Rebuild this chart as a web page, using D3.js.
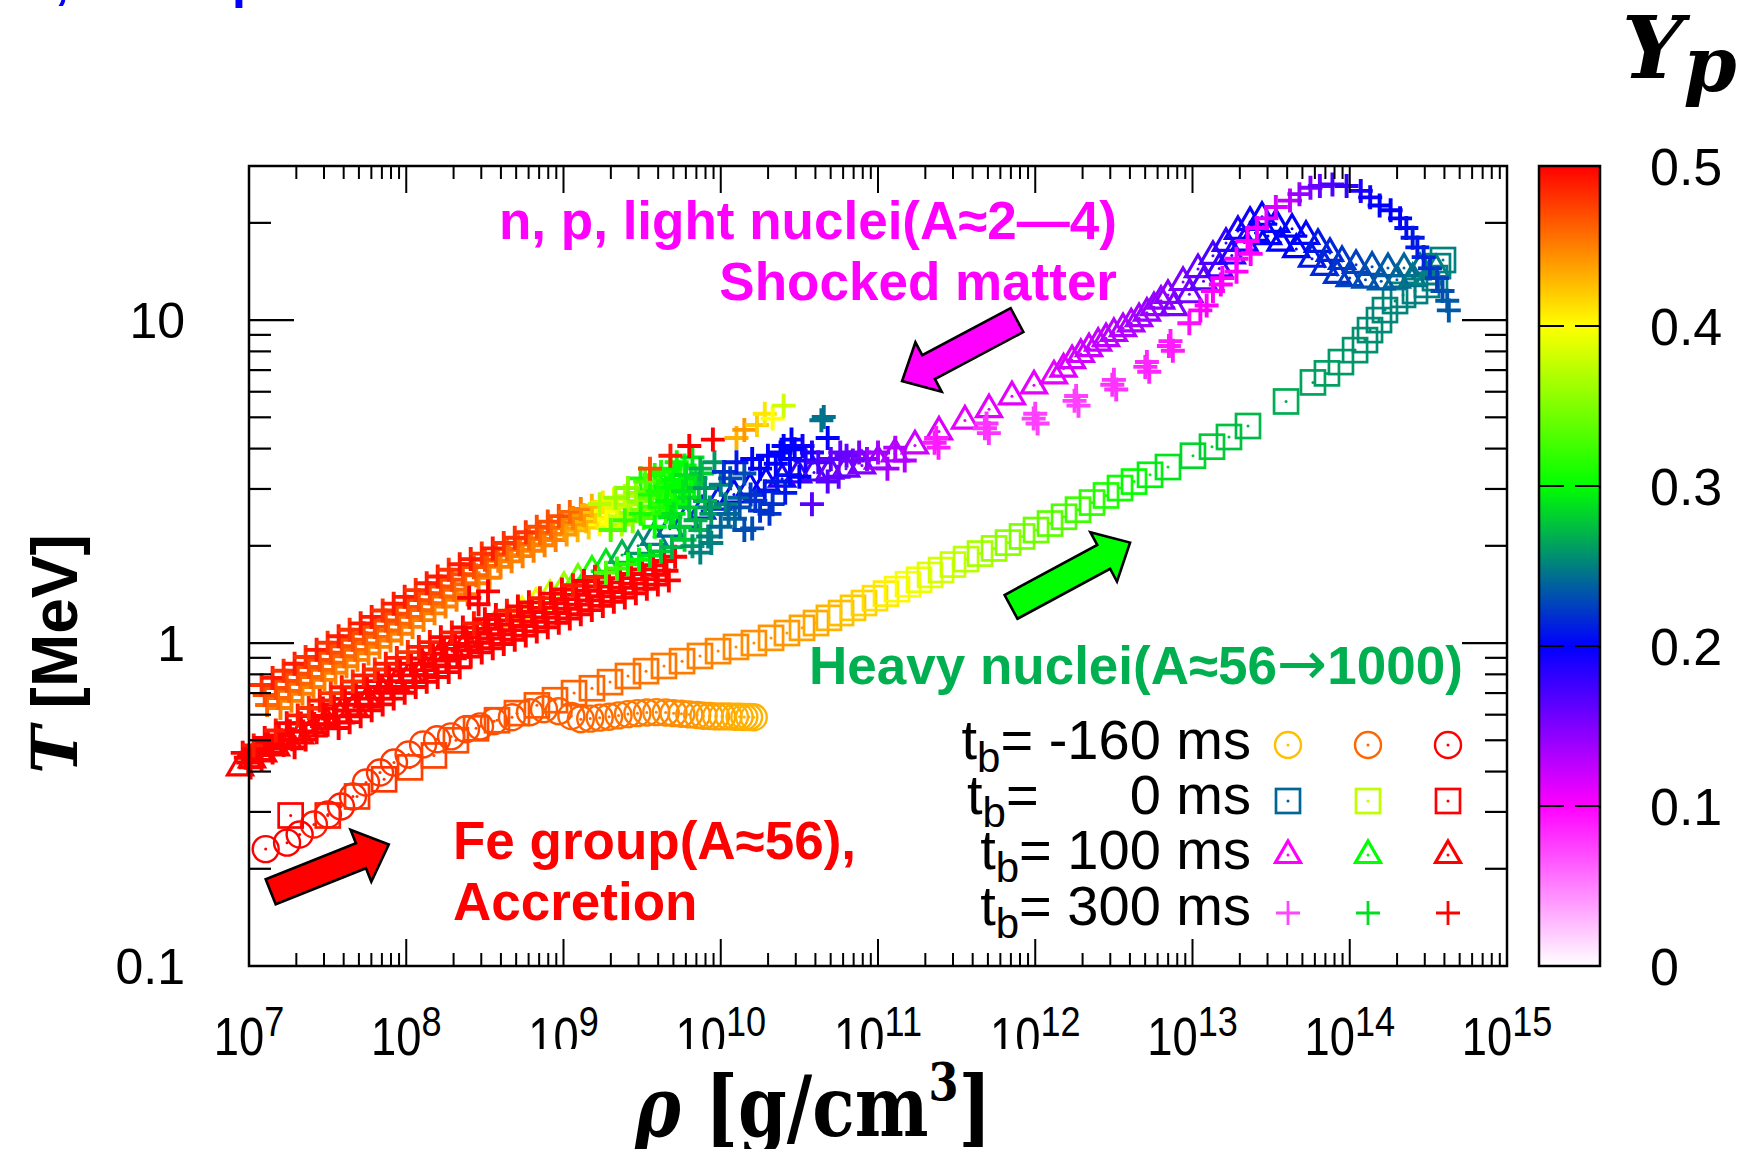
<!DOCTYPE html>
<html>
<head>
<meta charset="utf-8">
<script src="https://cdn.jsdelivr.net/npm/d3@7"></script>
<style>
  html, body { margin: 0; padding: 0; background: #fff; }
  svg { display: block; }
</style>
</head>
<body>
<svg id="chart" width="1742" height="1149"></svg>
<script>
// Each point: [log10(rho / g cm^-3), log10(T / MeV), Yp]

// t_b = -160 ms (circles)
const circlePts = [
  [7.106,-0.638,0.5],[7.242,-0.618,0.5],[7.322,-0.593,0.5],[7.413,-0.562,0.49],[7.502,-0.531,0.49],
  [7.585,-0.506,0.49],[7.661,-0.475,0.485],[7.744,-0.432,0.48],[7.833,-0.401,0.48],[7.922,-0.370,0.478],
  [8.015,-0.345,0.476],[8.107,-0.314,0.475],[8.196,-0.298,0.474],[8.285,-0.289,0.473],[8.380,-0.267,0.472],
  [8.469,-0.258,0.471],[8.558,-0.242,0.47],[8.672,-0.230,0.468],[8.787,-0.214,0.466],[8.876,-0.205,0.465],
  [8.969,-0.211,0.463],[9.05,-0.226,0.462],[9.11,-0.236,0.461],[9.17,-0.234,0.46],[9.23,-0.231,0.458],
  [9.29,-0.228,0.457],[9.35,-0.224,0.455],[9.41,-0.220,0.454],[9.47,-0.217,0.452],[9.53,-0.215,0.451],
  [9.59,-0.214,0.449],[9.65,-0.215,0.447],[9.70,-0.217,0.446],[9.75,-0.219,0.444],[9.80,-0.221,0.443],
  [9.85,-0.223,0.441],[9.89,-0.225,0.44],[9.93,-0.226,0.438],[9.97,-0.227,0.437],[10.01,-0.227,0.436],
  [10.05,-0.227,0.434],[10.09,-0.228,0.433],[10.12,-0.228,0.432],[10.15,-0.229,0.431],[10.18,-0.229,0.43],
  [10.21,-0.230,0.43]
];

// t_b = 0 ms (squares)
const squarePts = [
  [7.265,-0.534,0.5],[7.501,-0.534,0.49],[7.687,-0.475,0.48],[7.859,-0.422,0.48],[8.024,-0.385,0.475],
  [8.176,-0.348,0.475],[8.316,-0.301,0.47],[8.444,-0.264,0.47],[8.577,-0.239,0.468],[8.704,-0.217,0.466],
  [8.831,-0.193,0.465],[8.946,-0.177,0.463],[9.067,-0.155,0.462],[9.181,-0.140,0.46],[9.296,-0.121,0.458],
  [9.410,-0.102,0.457],[9.525,-0.087,0.455],[9.639,-0.071,0.453],[9.754,-0.056,0.452],[9.868,-0.040,0.45],
  [9.983,-0.025,0.448],[10.097,-0.012,0.446],[10.211,0.000,0.444],[10.320,0.016,0.442],[10.421,0.031,0.44],
  [10.517,0.047,0.437],[10.606,0.062,0.434],[10.688,0.078,0.43],[10.765,0.093,0.426],[10.841,0.109,0.422],
  [10.911,0.124,0.418],[10.981,0.139,0.413],[11.051,0.153,0.408],[11.121,0.167,0.403],[11.191,0.182,0.398],
  [11.261,0.196,0.393],[11.331,0.211,0.388],[11.401,0.226,0.383],[11.477,0.243,0.378],[11.560,0.260,0.372],
  [11.649,0.277,0.366],[11.738,0.293,0.36],[11.827,0.311,0.354],[11.916,0.330,0.348],[12.005,0.350,0.342],
  [12.094,0.370,0.336],[12.183,0.391,0.33],[12.272,0.413,0.324],[12.361,0.435,0.318],[12.450,0.457,0.312],
  [12.539,0.480,0.306],[12.628,0.500,0.30],[12.730,0.521,0.295],[12.844,0.545,0.29],[13.003,0.580,0.284],
  [13.124,0.608,0.28],[13.232,0.638,0.276],[13.353,0.672,0.272],[13.595,0.748,0.268],[13.766,0.807,0.264],
  [13.855,0.835,0.262],[13.944,0.870,0.26],[14.034,0.907,0.258],[14.097,0.938,0.256],[14.129,0.969,0.255],
  [14.186,1.000,0.254],[14.224,1.031,0.253],[14.288,1.059,0.252],[14.339,1.078,0.251],[14.415,1.090,0.25],
  [14.491,1.109,0.25],[14.542,1.130,0.25],[14.561,1.167,0.25],[14.593,1.186,0.25]
];

// t_b = 100 ms (triangles)
const trianglePts = [
  [6.943,-0.385,0.5],[7.019,-0.360,0.5],[7.089,-0.342,0.5],[7.172,-0.323,0.5],[7.254,-0.304,0.5],
  [7.324,-0.286,0.5],[7.407,-0.264,0.5],[7.490,-0.242,0.5],[7.579,-0.224,0.5],[7.668,-0.199,0.5],
  [7.757,-0.174,0.5],[7.846,-0.149,0.5],[7.935,-0.124,0.5],[8.024,-0.099,0.5],[8.113,-0.075,0.5],
  [8.202,-0.050,0.5],[8.291,-0.025,0.5],[8.380,0.000,0.5],[8.469,0.025,0.48],[8.558,0.050,0.45],
  [8.647,0.075,0.42],[8.736,0.099,0.40],[8.825,0.124,0.39],[8.914,0.149,0.38],[9.003,0.174,0.36],
  [9.092,0.199,0.34],[9.181,0.224,0.31],[9.270,0.245,0.29],[9.372,0.273,0.27],[9.474,0.301,0.26],
  [9.576,0.329,0.25],[9.677,0.354,0.24],[9.779,0.382,0.23],[9.881,0.410,0.22],[9.982,0.438,0.21],
  [10.084,0.460,0.2],[10.186,0.481,0.2],[10.288,0.497,0.2],[10.390,0.509,0.19],[10.491,0.522,0.18],
  [10.593,0.528,0.17],[10.695,0.534,0.16],[10.797,0.540,0.155],[10.898,0.550,0.15],[11.000,0.565,0.14],
  [11.108,0.587,0.13],[11.235,0.612,0.12],[11.388,0.655,0.115],[11.553,0.689,0.11],[11.706,0.724,0.11],
  [11.852,0.764,0.11],[11.992,0.798,0.11],[12.119,0.829,0.11],[12.18,0.85,0.112],[12.234,0.876,0.115],
  [12.29,0.895,0.118],[12.342,0.913,0.12],[12.40,0.93,0.122],[12.450,0.944,0.125],[12.50,0.96,0.128],
  [12.558,0.975,0.13],[12.61,0.99,0.132],[12.660,1.006,0.135],[12.71,1.023,0.138],[12.755,1.040,0.14],
  [12.80,1.06,0.142],[12.844,1.078,0.145],[12.940,1.118,0.15],[13.035,1.158,0.16],[13.130,1.199,0.17],
  [13.213,1.239,0.18],[13.289,1.276,0.19],[13.366,1.304,0.195],[13.442,1.320,0.2],[13.531,1.298,0.2],
  [13.633,1.283,0.2],[13.722,1.261,0.2],[13.798,1.236,0.21],[13.874,1.208,0.215],[13.951,1.183,0.22],
  [14.040,1.171,0.225],[14.142,1.165,0.23],[14.243,1.161,0.235],[14.345,1.161,0.24],[14.447,1.161,0.245],
  [14.549,1.158,0.25],
  [12.88,1.04,0.15],[12.98,1.08,0.155],[13.07,1.12,0.165],[13.17,1.16,0.175],[13.25,1.20,0.185],
  [13.33,1.24,0.19],[13.40,1.27,0.2],[13.48,1.26,0.2],[13.56,1.24,0.2],[13.66,1.22,0.2],
  [13.76,1.19,0.21],[13.84,1.165,0.215],[13.92,1.14,0.22],[14.00,1.13,0.225],[14.10,1.125,0.23],
  [14.20,1.12,0.235],[14.30,1.125,0.24],[14.40,1.13,0.245],[14.50,1.135,0.25]
];

// t_b = 300 ms (plus signs): lower band, four rows from top to bottom
const plusLowerRow1 = [
  [6.96,-0.340,.5],[7.03,-0.317,.49],[7.10,-0.294,.5],[7.17,-0.271,.49],[7.24,-0.248,.5],[7.31,-0.224,.49],
  [7.38,-0.201,.48],[7.45,-0.178,.49],[7.52,-0.155,.48],[7.59,-0.137,.49],[7.66,-0.119,.48],[7.73,-0.100,.49],
  [7.80,-0.082,.48],[7.87,-0.064,.49],[7.94,-0.046,.49],[8.01,-0.028,.48],[8.08,-0.012,.49],[8.15,0.003,.49],
  [8.22,0.018,.5],[8.29,0.033,.49],[8.36,0.048,.5],[8.43,0.061,.49],[8.50,0.074,.5],[8.57,0.087,.5],
  [8.64,0.100,.49],[8.71,0.113,.5],[8.78,0.126,.5],[8.85,0.139,.49],[8.92,0.153,.5],[8.99,0.166,.5],
  [9.06,0.179,.49],[9.13,0.192,.5],[9.20,0.205,.49],[9.27,0.218,.33],[9.34,0.231,.32],[9.41,0.244,.31],
  [9.48,0.258,.30],[9.55,0.271,.29],[9.62,0.284,.28],[9.69,0.297,.27]
];
const plusLowerRow2 = [
  [6.98,-0.355,.5],[7.05,-0.332,.5],[7.12,-0.309,.5],[7.19,-0.286,.5],[7.26,-0.273,.5],[7.33,-0.249,.5],
  [7.40,-0.226,.5],[7.47,-0.203,.5],[7.54,-0.191,.5],[7.61,-0.173,.5],[7.68,-0.155,.5],[7.75,-0.136,.5],
  [7.82,-0.118,.5],[7.89,-0.100,.5],[7.96,-0.082,.5],[8.03,-0.064,.5],[8.10,-0.048,.5],[8.17,-0.033,.5],
  [8.24,-0.018,.5],[8.31,-0.003,.5],[8.38,0.018,.5],[8.45,0.031,.5],[8.52,0.044,.5],[8.59,0.057,.5],
  [8.66,0.070,.5],[8.73,0.083,.5],[8.80,0.096,.5],[8.87,0.109,.5],[8.94,0.123,.5],[9.01,0.136,.5],
  [9.08,0.149,.5],[9.15,0.162,.5],[9.22,0.175,.5],[9.29,0.188,.5],[9.36,0.201,.5],[9.43,0.214,.5],
  [9.50,0.228,.5],[9.57,0.241,.5],[9.64,0.254,.5],[9.71,0.267,.5]
];
const plusLowerRow3 = [
  [6.995,-0.370,.5],[7.065,-0.347,.5],[7.135,-0.324,.5],[7.205,-0.301,.5],[7.275,-0.298,.5],[7.345,-0.274,.5],
  [7.415,-0.251,.5],[7.485,-0.228,.5],[7.555,-0.227,.5],[7.625,-0.209,.5],[7.695,-0.191,.5],[7.765,-0.172,.5],
  [7.835,-0.154,.5],[7.905,-0.136,.5],[7.975,-0.118,.5],[8.045,-0.100,.5],[8.115,-0.084,.5],[8.185,-0.069,.5],
  [8.255,-0.054,.5],[8.325,-0.039,.5],[8.395,-0.012,.5],[8.465,0.001,.5],[8.535,0.014,.5],[8.605,0.027,.5],
  [8.675,0.040,.5],[8.745,0.053,.5],[8.815,0.066,.5],[8.885,0.079,.5],[8.955,0.093,.5],[9.025,0.106,.5],
  [9.095,0.119,.5],[9.165,0.132,.5],[9.235,0.145,.5],[9.305,0.158,.5],[9.375,0.171,.5],[9.445,0.184,.5],
  [9.515,0.198,.5],[9.585,0.211,.5],[9.655,0.224,.5]
];
const plusLowerRow4 = [
  [7.01,-0.385,.5],[7.08,-0.362,.5],[7.15,-0.339,.5],[7.22,-0.316,.5],[7.29,-0.323,.5],[7.36,-0.299,.5],
  [7.43,-0.276,.5],[7.50,-0.253,.5],[7.57,-0.263,.5],[7.64,-0.245,.5],[7.71,-0.227,.5],[7.78,-0.208,.5],
  [7.85,-0.190,.5],[7.92,-0.172,.5],[7.99,-0.154,.5],[8.06,-0.136,.5],[8.13,-0.120,.5],[8.20,-0.105,.5],
  [8.27,-0.090,.5],[8.34,-0.075,.5],[8.41,-0.042,.5],[8.48,-0.029,.5],[8.55,-0.016,.5],[8.62,-0.003,.5],
  [8.69,0.010,.5],[8.76,0.023,.5],[8.83,0.036,.5],[8.90,0.049,.5],[8.97,0.063,.5],[9.04,0.076,.5],
  [9.11,0.089,.5],[9.18,0.102,.5],[9.25,0.115,.5],[9.32,0.128,.5],[9.39,0.141,.5],[9.46,0.154,.5],
  [9.53,0.168,.5],[9.60,0.181,.5],[9.67,0.194,.5]
];
// t_b = 300 ms: upper band, four rows from top to bottom
const plusUpperRow1 = [
  [7.08,-0.130,.48],[7.15,-0.108,.49],[7.22,-0.086,.48],[7.29,-0.064,.49],[7.36,-0.043,.48],[7.43,-0.021,.49],
  [7.50,0.001,.48],[7.57,0.021,.49],[7.64,0.041,.48],[7.71,0.061,.49],[7.78,0.081,.49],[7.85,0.101,.48],
  [7.92,0.122,.49],[7.99,0.143,.49],[8.06,0.164,.48],[8.13,0.185,.49],[8.20,0.206,.49],[8.27,0.227,.48],
  [8.34,0.244,.49],[8.41,0.260,.49],[8.48,0.277,.48],[8.55,0.293,.49],[8.62,0.310,.48],[8.69,0.326,.48],
  [8.76,0.343,.48],[8.83,0.360,.47],[8.90,0.376,.47],[8.97,0.393,.47],[9.04,0.406,.46],[9.11,0.415,.45],
  [9.18,0.425,.43],[9.25,0.435,.41],[9.32,0.445,.39],[9.39,0.455,.375],[9.46,0.465,.36],[9.53,0.475,.345],
  [9.60,0.484,.33],[9.67,0.494,.32],[9.74,0.502,.31],[9.81,0.511,.30]
];
const plusUpperRow2 = [
  [7.10,-0.161,.47],[7.17,-0.139,.47],[7.24,-0.117,.47],[7.31,-0.095,.47],[7.38,-0.074,.47],[7.45,-0.052,.47],
  [7.52,-0.030,.47],[7.59,-0.010,.47],[7.66,0.010,.47],[7.73,0.030,.47],[7.80,0.050,.47],[7.87,0.070,.47],
  [7.94,0.091,.47],[8.01,0.112,.47],[8.08,0.133,.47],[8.15,0.154,.47],[8.22,0.175,.47],[8.29,0.196,.47],
  [8.36,0.213,.47],[8.43,0.235,.47],[8.50,0.258,.47],[8.57,0.274,.47],[8.64,0.291,.46],[8.71,0.307,.46],
  [8.78,0.324,.46],[8.85,0.341,.46],[8.92,0.357,.46],[8.99,0.374,.45],[9.06,0.387,.45],[9.13,0.396,.44],
  [9.20,0.406,.42],[9.27,0.409,.40],[9.34,0.419,.385],[9.41,0.429,.37],[9.48,0.439,.355],[9.55,0.449,.34],
  [9.62,0.458,.325],[9.69,0.468,.315],[9.76,0.476,.305],[9.83,0.485,.30]
];
const plusUpperRow3 = [
  [7.115,-0.192,.46],[7.185,-0.170,.46],[7.255,-0.148,.46],[7.325,-0.126,.46],[7.395,-0.105,.46],[7.465,-0.083,.46],
  [7.535,-0.061,.46],[7.605,-0.041,.46],[7.675,-0.021,.46],[7.745,-0.001,.46],[7.815,0.019,.46],[7.885,0.039,.46],
  [7.955,0.060,.46],[8.025,0.081,.46],[8.095,0.102,.46],[8.165,0.123,.46],[8.235,0.144,.46],[8.305,0.165,.46],
  [8.375,0.182,.46],[8.445,0.210,.46],[8.515,0.239,.46],[8.585,0.255,.45],[8.655,0.272,.45],[8.725,0.288,.45],
  [8.795,0.305,.45],[8.865,0.322,.45],[8.935,0.338,.45],[9.005,0.355,.44],[9.075,0.368,.44],[9.145,0.377,.43],
  [9.215,0.387,.41],[9.285,0.383,.40],[9.355,0.393,.38],[9.425,0.403,.365],[9.495,0.413,.35],[9.565,0.423,.335],
  [9.635,0.432,.32],[9.705,0.442,.31],[9.775,0.450,.30]
];
const plusUpperRow4 = [
  [7.20,-0.201,.45],[7.27,-0.179,.45],[7.34,-0.157,.45],[7.41,-0.136,.45],[7.48,-0.114,.45],[7.55,-0.092,.45],
  [7.62,-0.072,.45],[7.69,-0.052,.45],[7.76,-0.032,.45],[7.83,-0.012,.45],[7.90,0.008,.45],[7.97,0.029,.45],
  [8.04,0.050,.45],[8.11,0.071,.45],[8.18,0.092,.45],[8.25,0.113,.45],[8.32,0.134,.45],[8.39,0.151,.45],
  [8.46,0.185,.45],[8.53,0.202,.45],[8.60,0.236,.45],[8.67,0.253,.45],[8.74,0.269,.45],[8.81,0.286,.45],
  [8.88,0.303,.45],[8.95,0.319,.45],[9.02,0.336,.44],[9.09,0.349,.43],[9.16,0.358,.42],[9.23,0.368,.40],
  [9.30,0.357,.39],[9.37,0.367,.37],[9.44,0.377,.35],[9.51,0.387,.33],[9.58,0.397,.32],[9.65,0.406,.31]
];
// t_b = 300 ms: transition region and scattered points
const plusTransition = [
  [8.40,0.14,0.5],[8.46,0.12,0.5],[8.52,0.16,0.5],
  [9.49,0.51,0.31],[9.58,0.52,0.31],[9.68,0.54,0.30],[9.77,0.55,0.30],[9.55,0.46,0.31],[9.65,0.48,0.30],
  [9.74,0.49,0.30],[9.84,0.51,0.29],[9.61,0.42,0.31],[9.71,0.43,0.30],[9.80,0.45,0.29],
  [9.30,0.35,0.33],[9.39,0.38,0.32],[9.49,0.40,0.31],[9.58,0.36,0.30],[9.68,0.39,0.29],[9.77,0.32,0.28],[9.87,0.35,0.27],
  [9.23,0.43,0.37],[9.33,0.45,0.36],[9.41,0.48,0.35],
  [9.52,0.50,0.33],[9.62,0.53,0.31],[9.72,0.56,0.30],[9.82,0.575,0.29],[9.60,0.47,0.31],[9.70,0.505,0.30],
  [9.78,0.52,0.29],[9.88,0.525,0.28],[9.66,0.44,0.30],[9.76,0.47,0.29],[9.86,0.48,0.28],[9.70,0.40,0.29],
  [9.80,0.42,0.28],[9.90,0.44,0.27],[9.74,0.36,0.28],[9.84,0.38,0.27],[9.94,0.40,0.26],[9.82,0.30,0.26],
  [9.92,0.33,0.25],[10.00,0.36,0.24],
  [9.87,0.54,0.27],[9.96,0.56,0.26],[9.90,0.48,0.26],[10.00,0.49,0.25],[9.93,0.42,0.26],[10.03,0.43,0.25],
  [10.09,0.385,0.24],[10.12,0.45,0.24],[9.87,0.28,0.25],[9.94,0.31,0.25],
  [10.06,0.51,0.23],[10.15,0.525,0.23],[10.19,0.46,0.22],[10.25,0.41,0.22],[10.15,0.35,0.23],
  [10.02,0.53,0.22],[10.10,0.56,0.21],[10.20,0.57,0.20],[10.30,0.58,0.20],[10.40,0.61,0.20],[10.45,0.63,0.20],
  [10.52,0.61,0.195],[10.58,0.59,0.19],[10.36,0.50,0.21],[10.28,0.47,0.21],[10.22,0.44,0.22],[10.12,0.42,0.23],
  [10.05,0.40,0.24],[10.33,0.43,0.22],[10.44,0.52,0.205],
  [10.25,0.54,0.20],[10.35,0.555,0.20],[10.44,0.57,0.20],[10.38,0.59,0.20],[10.47,0.60,0.20],
  [10.54,0.565,0.19],[10.50,0.515,0.20],[10.41,0.465,0.21],[10.31,0.40,0.22],[10.20,0.355,0.23],
  [9.55,0.54,0.47],[9.68,0.58,0.49],[9.80,0.61,0.5],[9.95,0.63,0.5],[10.10,0.635,0.43],[10.15,0.66,0.44],
  [10.23,0.675,0.42],[10.28,0.71,0.41],[10.33,0.695,0.40],[10.40,0.735,0.38],
  [10.64,0.69,0.245],[10.655,0.70,0.245],[10.68,0.635,0.2],
  [10.62,0.56,0.17],[10.70,0.57,0.165],[10.80,0.58,0.16],[10.88,0.59,0.15],[10.93,0.57,0.145],[10.68,0.50,0.165],
  [10.76,0.59,0.16],[10.84,0.565,0.155],[10.75,0.515,0.16],[10.58,0.43,0.165],
  [11.00,0.59,0.135],[11.11,0.605,0.13],[11.17,0.565,0.13],[11.06,0.54,0.135]
];
// t_b = 300 ms: shocked matter up to the temperature peak and the centre
const plusShocked = [
  [11.36,0.62,0.09],[11.385,0.605,0.09],[11.37,0.635,0.09],
  [11.68,0.665,0.08],[11.705,0.65,0.08],[11.69,0.68,0.08],
  [11.99,0.695,0.075],[12.015,0.68,0.075],[12.00,0.71,0.075],
  [12.25,0.75,0.075],[12.275,0.735,0.075],[12.26,0.765,0.075],
  [12.49,0.80,0.08],[12.515,0.785,0.08],[12.50,0.815,0.08],
  [12.70,0.855,0.085],[12.725,0.84,0.085],[12.71,0.87,0.085],
  [12.85,0.92,0.09],[12.875,0.905,0.09],[12.86,0.935,0.09],
  [12.98,0.99,0.095],[13.05,1.03,0.1],[13.09,1.045,0.1],[13.13,1.09,0.1],
  [13.18,1.11,0.1],[13.19,1.13,0.1],[13.28,1.15,0.1],[13.28,1.19,0.1],[13.35,1.245,0.1],[13.37,1.205,0.1],
  [13.41,1.285,0.105],[13.47,1.315,0.11],[13.53,1.35,0.115],[13.62,1.37,0.125],[13.68,1.39,0.14],[13.75,1.41,0.15],
  [13.81,1.415,0.16],[13.89,1.42,0.17],[13.98,1.415,0.18],[14.07,1.40,0.19],[14.13,1.38,0.195],[14.19,1.355,0.2],
  [14.26,1.34,0.2],[14.32,1.315,0.2],[14.36,1.285,0.205],[14.40,1.255,0.21],[14.43,1.225,0.21],[14.47,1.195,0.215],
  [14.51,1.16,0.22],[14.555,1.13,0.225],[14.59,1.09,0.23],[14.62,1.06,0.235],[14.63,1.03,0.235]
];

// Axis and colour-bar definitions
const xDecades = [7, 8, 9, 10, 11, 12, 13, 14, 15];
const yTickValues = [0.1, 1, 10];
const yTickLabels = ["0.1", "1", "10"];
const ypTicks = [0, 0.1, 0.2, 0.3, 0.4, 0.5];
const ypTickLabels = ["0", "0.1", "0.2", "0.3", "0.4", "0.5"];
const ypStops = [0, 0.1, 0.2, 0.3, 0.4, 0.5];
const ypColors = ["#ffffff", "#ff00ff", "#0000ff", "#00ff00", "#ffff00", "#ff0000"];

// Legend: rows are bounce times, columns show sample Yp colours
const legendTimes = ["-160", "0", "100", "300"];
const legendShapes = ["circle", "square", "triangle", "plus"];
const legendYp = [[0.425, 0.46, 0.5], [0.24, 0.375, 0.5], [0.1, 0.3, 0.5], [0.073, 0.287, 0.5]];

// Annotation arrows: [tail, tip] in [log10 rho, log10 T]
const arrowShock = [[11.884, 1.0], [11.153, 0.811]];
const arrowHeavy = [[11.846, 0.112], [12.603, 0.311]];
const arrowAccretion = [[7.138, -0.770], [7.889, -0.624]];

// ---------------------------------------------------------------
const svg = d3.select("#chart");
const box = { left: 249, right: 1507, top: 166, bottom: 966 };
const x = d3.scaleLog().domain([1e7, 1e15]).range([box.left, box.right]);
const y = d3.scaleLog().domain([0.1, 30]).range([box.bottom, box.top]);
const color = d3.scaleLinear().domain(ypStops).range(ypColors).interpolate(d3.interpolateRgb).clamp(true);
const px = d => x(Math.pow(10, d[0]));
const py = d => y(Math.pow(10, d[1]));

const SANS = "'Liberation Sans', Arial, Helvetica, sans-serif";
const SERIF = "'DejaVu Serif', serif";

svg.append("rect").attr("width", 1742).attr("height", 1149).attr("fill", "#fff");

function addShape(sel, shape, c, plusWidth) {
  if (shape === "circle") {
    sel.append("circle").attr("r", 13).attr("fill", "none").attr("stroke", c).attr("stroke-width", 2.4);
  } else if (shape === "square") {
    sel.append("rect").attr("x", -12).attr("y", -12).attr("width", 24).attr("height", 24)
      .attr("fill", "none").attr("stroke", c).attr("stroke-width", 2.7);
  } else if (shape === "triangle") {
    sel.append("path").attr("d", "M0,-14L12.5,7.5L-12.5,7.5Z")
      .attr("fill", "none").attr("stroke", c).attr("stroke-width", 3.2).attr("stroke-linejoin", "miter");
  } else {
    sel.append("path").attr("d", "M-12,0H12M0,-12V12").attr("stroke", c).attr("stroke-width", plusWidth || 3.9);
    return;
  }
  sel.append("circle").attr("r", 1.5).attr("fill", c);
}

function drawSeries(data, shape) {
  svg.append("g").selectAll("g").data(data).join("g")
    .attr("transform", d => `translate(${px(d)},${py(d)})`)
    .each(function (d) { addShape(d3.select(this), shape, color(d[2])); });
}

// ---- markers (drawn in series order) ----
drawSeries(circlePts, "circle");
drawSeries(squarePts, "square");
drawSeries(trianglePts, "triangle");
[plusLowerRow4, plusLowerRow3, plusLowerRow2, plusLowerRow1,
 plusUpperRow4, plusUpperRow3, plusUpperRow2, plusUpperRow1,
 plusTransition, plusShocked].forEach(rows => drawSeries(rows, "plus"));

// ---- frame and ticks ----
const axes = svg.append("g").attr("stroke", "#000");
axes.append("rect").attr("x", box.left).attr("y", box.top)
  .attr("width", box.right - box.left).attr("height", box.bottom - box.top)
  .attr("fill", "none").attr("stroke-width", 2.5);

const xMinor = [];
xDecades.slice(0, -1).forEach(e => { for (let m = 2; m <= 9; m++) xMinor.push(m * Math.pow(10, e)); });
const yMinor = [];
[-1, 0, 1].forEach(e => { for (let m = 2; m <= 9; m++) { const v = m * Math.pow(10, e); if (v < 30) yMinor.push(v); } });

function xTicks(vals, len) {
  vals.forEach(v => {
    const xx = x(v);
    axes.append("line").attr("x1", xx).attr("x2", xx).attr("y1", box.bottom).attr("y2", box.bottom - len).attr("stroke-width", 2);
    axes.append("line").attr("x1", xx).attr("x2", xx).attr("y1", box.top).attr("y2", box.top + len).attr("stroke-width", 2);
  });
}
function yTicks(vals, len) {
  vals.forEach(v => {
    const yy = y(v);
    axes.append("line").attr("y1", yy).attr("y2", yy).attr("x1", box.left).attr("x2", box.left + len).attr("stroke-width", 2.2);
    axes.append("line").attr("y1", yy).attr("y2", yy).attr("x1", box.right).attr("x2", box.right - len).attr("stroke-width", 2.2);
  });
}
xTicks(xDecades.map(e => Math.pow(10, e)), 27);
xTicks(xMinor, 13);
yTicks(yTickValues, 45);
yTicks(yMinor, 22);

// ---- tick labels ----
xDecades.forEach(e => {
  const g = svg.append("g").attr("transform", `translate(${x(Math.pow(10, e))},1055) scale(0.84,1)`);
  const t = g.append("text").attr("text-anchor", "middle").attr("font-family", SANS).attr("font-size", 54).attr("fill", "#000");
  t.append("tspan").text("10");
  t.append("tspan").attr("dy", -19).attr("font-size", 43).text(e);
});
yTickValues.forEach((v, i) => {
  svg.append("text").attr("x", 185).attr("y", y(v)).attr("dy", "0.36em")
    .attr("text-anchor", "end").attr("font-family", SANS).attr("font-size", 50).attr("fill", "#000")
    .text(yTickLabels[i]);
});

// white backing of the density label (covers the lower part of some tick labels)
svg.append("rect").attr("x", 480).attr("y", 1049).attr("width", 600).attr("height", 100).attr("fill", "#fff");

// ---- axis titles ----
{
  const g = svg.append("g").attr("transform", "translate(813,1136) scale(0.83,1)");
  const t = g.append("text").attr("text-anchor", "middle").attr("font-family", SERIF)
    .attr("font-weight", "bold").attr("font-size", 84).attr("fill", "#000");
  t.append("tspan").attr("font-style", "italic").text("ρ");
  t.append("tspan").text(" [g/cm");
  t.append("tspan").attr("dy", -36).attr("font-size", 52).text("3");
  t.append("tspan").attr("dy", 36).text("]");
}
{
  const t = svg.append("text").attr("transform", "translate(77,654) rotate(-90)")
    .attr("text-anchor", "middle").attr("font-size", 64).attr("font-weight", "bold").attr("fill", "#000");
  t.append("tspan").attr("font-family", SERIF).attr("font-style", "italic").text("T");
  t.append("tspan").attr("font-family", SANS).text(" [MeV]");
}

// ---- colour bar ----
const cb = { left: 1539, right: 1600 };
const cy = d3.scaleLinear().domain([0, 0.5]).range([box.bottom, box.top]);
const defs = svg.append("defs");
const grad = defs.append("linearGradient").attr("id", "ypGrad")
  .attr("x1", 0).attr("y1", 1).attr("x2", 0).attr("y2", 0);
d3.range(0, 51).forEach(i => {
  const v = i / 100;
  grad.append("stop").attr("offset", v / 0.5).attr("stop-color", color(v));
});
svg.append("rect").attr("x", cb.left).attr("y", box.top).attr("width", cb.right - cb.left)
  .attr("height", box.bottom - box.top).attr("fill", "url(#ypGrad)");
ypTicks.slice(1, -1).forEach(v => {
  svg.append("line").attr("x1", cb.left).attr("x2", cb.left + 25).attr("y1", cy(v)).attr("y2", cy(v))
    .attr("stroke", "#000").attr("stroke-width", 2);
  svg.append("line").attr("x1", cb.right).attr("x2", cb.right - 25).attr("y1", cy(v)).attr("y2", cy(v))
    .attr("stroke", "#000").attr("stroke-width", 2);
});
svg.append("rect").attr("x", cb.left).attr("y", box.top).attr("width", cb.right - cb.left)
  .attr("height", box.bottom - box.top).attr("fill", "none").attr("stroke", "#000").attr("stroke-width", 2.5);
ypTicks.forEach((v, i) => {
  svg.append("text").attr("x", 1650).attr("y", cy(v)).attr("dy", "0.36em")
    .attr("font-family", SANS).attr("font-size", 52).attr("fill", "#000").text(ypTickLabels[i]);
});
{
  const t = svg.append("text").attr("x", 1622).attr("y", 78).attr("font-family", SERIF)
    .attr("font-weight", "bold").attr("font-style", "italic").attr("font-size", 86).attr("fill", "#000");
  t.append("tspan").text("Y");
  t.append("tspan").attr("dy", 13).attr("font-size", 76).text("p");
}

// ---- legend ----
const legCols = [1288, 1368, 1448];
const legRowsText = [759, 814, 869, 925];
const legRowsMark = [745, 801, 855, 913];
legendTimes.forEach((tm, r) => {
  if (tm === "0") {
    const t1 = svg.append("text").attr("x", 967).attr("y", legRowsText[r])
      .attr("font-family", SANS).attr("font-size", 56).attr("fill", "#000");
    t1.append("tspan").text("t");
    t1.append("tspan").attr("dy", 13).attr("font-size", 42).text("b");
    t1.append("tspan").attr("dy", -13).text("=");
    svg.append("text").attr("x", 1251).attr("y", legRowsText[r]).attr("text-anchor", "end")
      .attr("font-family", SANS).attr("font-size", 56).attr("fill", "#000").text(tm + " ms");
  } else {
    const t = svg.append("text").attr("x", 1251).attr("y", legRowsText[r]).attr("text-anchor", "end")
      .attr("font-family", SANS).attr("font-size", 56).attr("fill", "#000");
    t.append("tspan").text("t");
    t.append("tspan").attr("dy", 13).attr("font-size", 42).text("b");
    t.append("tspan").attr("dy", -13).text("= " + tm + " ms");
  }
  legendYp[r].forEach((yp, c) => {
    const g = svg.append("g").attr("transform", `translate(${legCols[c]},${legRowsMark[r]})`);
    addShape(g, legendShapes[r], color(yp), 2.8);
  });
});

// ---- annotations ----
function blockArrow(a, fill) {
  const p0 = [px(a[0]), py(a[0])], p1 = [px(a[1]), py(a[1])];
  const dx = p1[0] - p0[0], dy = p1[1] - p0[1], L = Math.hypot(dx, dy);
  const u = [dx / L, dy / L], n = [-u[1], u[0]];
  const w = 13.5, hw = 28, hl = 30;
  const b = [p1[0] - u[0] * hl, p1[1] - u[1] * hl];
  const pts = [
    [p0[0] + n[0] * w, p0[1] + n[1] * w], [b[0] + n[0] * w, b[1] + n[1] * w], [b[0] + n[0] * hw, b[1] + n[1] * hw],
    p1, [b[0] - n[0] * hw, b[1] - n[1] * hw], [b[0] - n[0] * w, b[1] - n[1] * w], [p0[0] - n[0] * w, p0[1] - n[1] * w]
  ];
  svg.append("path").attr("d", "M" + pts.map(p => p.join(",")).join("L") + "Z")
    .attr("fill", fill).attr("stroke", "#000").attr("stroke-width", 2.6).attr("stroke-linejoin", "miter");
}
blockArrow(arrowShock, "#ff00ff");
blockArrow(arrowHeavy, "#00ff00");
blockArrow(arrowAccretion, "#ff0000");

function label(parts, xx, yy, fill, anchor) {
  const t = svg.append("text").attr("x", xx).attr("y", yy).attr("text-anchor", anchor)
    .attr("font-family", SANS).attr("font-weight", "bold").attr("font-size", 53).attr("fill", fill);
  parts.forEach(p => {
    const s = t.append("tspan").text(p.t);
    if (p.sym) s.attr("font-family", "'DejaVu Sans', sans-serif").attr("font-weight", "normal").attr("font-size", 60);
  });
}
label([{ t: "n, p, light nuclei(A≈2" }, { t: "—" }, { t: "4)" }], 1117, 239, "#ff00ff", "end");
label([{ t: "Shocked matter" }], 1117, 300, "#ff00ff", "end");
label([{ t: "Heavy nuclei(A≈56" }, { t: "→", sym: true }, { t: "1000)" }], 809, 684, "#00b050", "start");
label([{ t: "Fe group(A≈56)," }], 453, 859, "#ff0000", "start");
label([{ t: "Accretion" }], 453, 920, "#ff0000", "start");

// caption line above the figure (only its lowest part falls inside the canvas)
{
  const t = svg.append("text").attr("y", -2).attr("font-family", SANS).attr("font-weight", "bold")
    .attr("font-size", 50).attr("fill", "#0000ff");
  t.append("tspan").attr("x", 55).text(",");
  t.append("tspan").attr("x", 232).text("p");
}
</script>
</body>
</html>
